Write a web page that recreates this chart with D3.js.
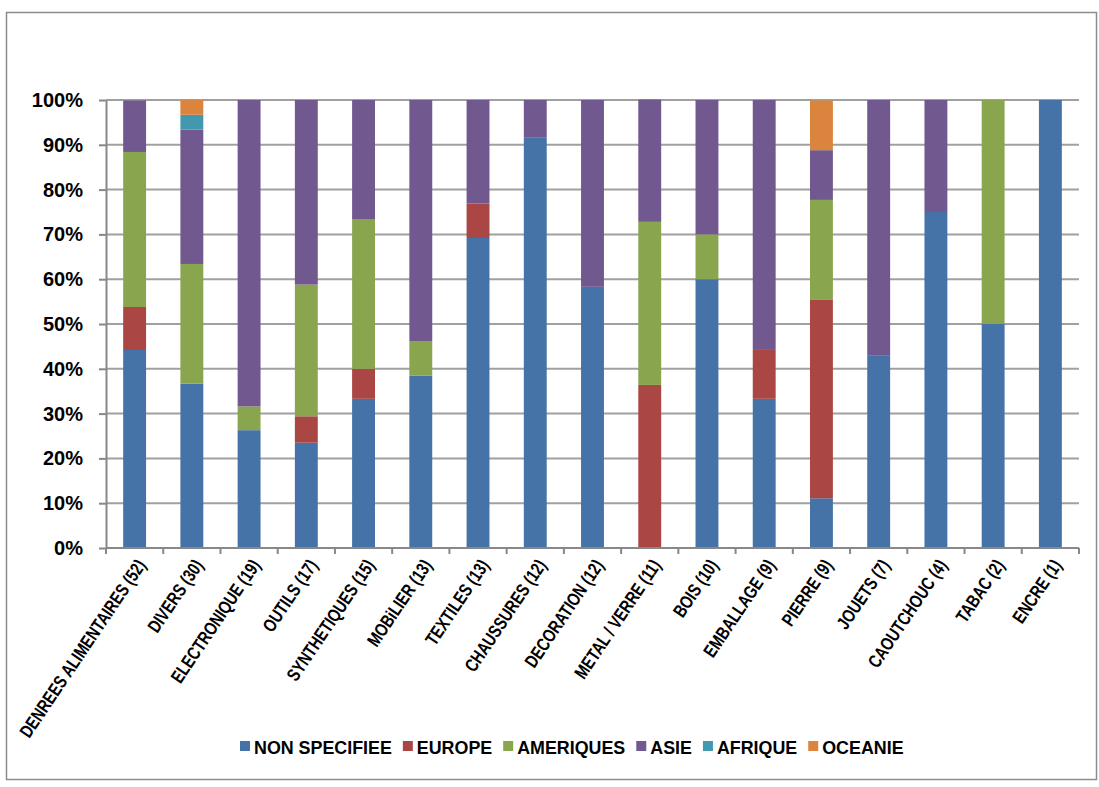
<!DOCTYPE html>
<html>
<head>
<meta charset="utf-8">
<script src="https://cdn.jsdelivr.net/npm/d3@7"></script>
<style>
  body { margin: 0; background: #fff; }
  text { font-family: "Liberation Sans", Arial, sans-serif; font-weight: bold; fill: #000; }
</style>
</head>
<body>
<div id="chart"></div>
<script>
// categories (count of items in brackets)
const categories = ["DENREES ALIMENTAIRES (52)", "DIVERS (30)", "ELECTRONIQUE (19)", "OUTILS (17)",
    "SYNTHETIQUES (15)", "MOBiLIER (13)", "TEXTILES (13)", "CHAUSSURES (12)", "DECORATION (12)",
    "METAL / VERRE (11)", "BOIS (10)", "EMBALLAGE (9)", "PIERRE (9)", "JOUETS (7)",
    "CAOUTCHOUC (4)", "TABAC (2)", "ENCRE (1)"];

// share of each origin, in %
const nonSpecifiee = [44.2, 36.7, 26.3, 23.5, 33.3, 38.5, 69.2, 91.7, 58.3, 0, 60, 33.3, 11.1, 42.9, 75, 50, 100];
const europe       = [9.6, 0, 0, 5.9, 6.7, 0, 7.7, 0, 0, 36.4, 0, 11.1, 44.4, 0, 0, 0, 0];
const ameriques    = [34.6, 26.7, 5.3, 29.4, 33.3, 7.7, 0, 0, 0, 36.4, 10, 0, 22.2, 0, 0, 50, 0];
const asie         = [11.5, 30, 68.4, 41.2, 26.7, 53.8, 23.1, 8.3, 41.7, 27.3, 30, 55.6, 11.1, 57.1, 25, 0, 0];
const afrique      = [0, 3.3, 0, 0, 0, 0, 0, 0, 0, 0, 0, 0, 0, 0, 0, 0, 0];
const oceanie      = [0, 3.3, 0, 0, 0, 0, 0, 0, 0, 0, 0, 0, 11.1, 0, 0, 0, 0];

const seriesNames = ["NON SPECIFIEE", "EUROPE", "AMERIQUES", "ASIE", "AFRIQUE", "OCEANIE"];
const seriesValues = [nonSpecifiee, europe, ameriques, asie, afrique, oceanie];
const colors = ["#4572A7", "#AA4643", "#89A54E", "#71588F", "#4198AF", "#DB843D"];
const yTicks = [0, 10, 20, 30, 40, 50, 60, 70, 80, 90, 100];

const svgWidth = 1099;
const svgHeight = 787;
const margin = {top: 100, right: 20, bottom: 239, left: 106};
const width = svgWidth - margin.left - margin.right;
const height = svgHeight - margin.top - margin.bottom;

const svg = d3.select("#chart").append("svg")
    .attr("width", svgWidth)
    .attr("height", svgHeight);

// outer frame
svg.append("rect")
    .attr("x", 6.5).attr("y", 12.5)
    .attr("width", 1090).attr("height", 767)
    .attr("fill", "none")
    .attr("stroke", "#8c8c8c")
    .attr("stroke-width", 1.5);

const chartGroup = svg.append("g")
    .attr("transform", `translate(${margin.left}, ${margin.top})`);

// build rows for the stack
const rows = categories.map((c, i) => {
    const row = {cat: c};
    seriesNames.forEach((s, j) => row[s] = seriesValues[j][i]);
    return row;
});

const x = d3.scaleBand().domain(categories).range([0, width]).paddingInner(0.6).paddingOuter(0.3);
const y = d3.scaleLinear().domain([0, 100]).range([height, 0]);
const color = d3.scaleOrdinal().domain(seriesNames).range(colors);

// gridlines
chartGroup.append("g")
    .selectAll("line")
    .data(yTicks.slice(1))
    .enter()
    .append("line")
    .attr("x1", 0).attr("x2", width)
    .attr("y1", d => y(d)).attr("y2", d => y(d))
    .attr("stroke", "#a0a0a0")
    .attr("stroke-width", 2);

// bars
const stacked = d3.stack().keys(seriesNames)(rows);
chartGroup.append("g")
    .selectAll("g")
    .data(stacked)
    .enter()
    .append("g")
    .attr("fill", d => color(d.key))
    .selectAll("rect")
    .data(d => d)
    .enter()
    .append("rect")
    .attr("x", d => x(d.data.cat))
    .attr("width", x.bandwidth())
    .attr("y", d => y(d[1]))
    .attr("height", d => y(d[0]) - y(d[1]));

// y axis
const leftAxis = d3.axisLeft(y).tickValues(yTicks).tickFormat(d => d + "%").tickSizeOuter(0).tickSizeInner(7).tickPadding(16);
const yAxis = chartGroup.append("g").call(leftAxis);
yAxis.selectAll("text").style("font-size", "20px");

// x axis: ticks at category boundaries
const xAxis = chartGroup.append("g").attr("transform", `translate(0, ${height})`);
xAxis.append("line")
    .attr("x1", 0).attr("x2", width)
    .attr("stroke", "#888").attr("stroke-width", 2);
xAxis.selectAll(".tk")
    .data(d3.range(categories.length + 1))
    .enter()
    .append("line")
    .attr("class", "tk")
    .attr("x1", i => i * x.step()).attr("x2", i => i * x.step())
    .attr("y1", 0).attr("y2", 6)
    .attr("stroke", "#888").attr("stroke-width", 2);

yAxis.selectAll("line").attr("stroke", "#888").attr("stroke-width", 2);
yAxis.select(".domain").attr("stroke", "#888").attr("stroke-width", 2);

// rotated category labels, squeezed a bit to get a condensed look
xAxis.selectAll(".lbl")
    .data(categories)
    .enter()
    .append("text")
    .attr("class", "lbl")
    .attr("text-anchor", "end")
    .attr("transform", d => `translate(${x(d) + x.bandwidth() / 2 + 12}, 17) rotate(-56) scale(0.78, 1)`)
    .style("font-size", "18.5px")
    .text(d => d);

// legend
const legend = svg.append("g").attr("transform", "translate(240, 747)");
const squeeze = 0.94;
let lx = 0;
seriesNames.forEach((s, i) => {
    const g = legend.append("g").attr("transform", `translate(${lx}, 0)`);
    g.append("rect").attr("x", 0).attr("y", -6).attr("width", 10).attr("height", 10).attr("fill", colors[i]);
    const t = g.append("text")
        .attr("transform", `translate(14, 6.5) scale(${squeeze}, 1)`)
        .style("font-size", "19px")
        .text(s);
    lx += 14 + t.node().getComputedTextLength() * squeeze + 11;
});
</script>
</body>
</html>
